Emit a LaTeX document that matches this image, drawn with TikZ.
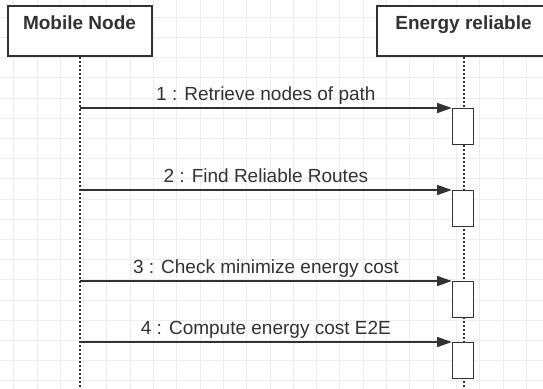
\documentclass[tikz,border=0pt]{standalone}
\usepackage{fontspec}
\setmainfont{Liberation Sans}
\usetikzlibrary{arrows.meta,positioning}
\definecolor{ink}{RGB}{50,50,50}
\definecolor{gridgrey}{RGB}{237,237,237}
\tikzset{
  lifebox/.style={draw=ink,line width=1.5pt,fill=white,anchor=north,inner xsep=0pt,inner ysep=3pt,
    text height=14.25pt,text depth=17.25pt,text=ink,font=\fontsize{14.25}{17}\selectfont\bfseries},
  actbox/.style={draw=ink,line width=1.1pt,fill=white,anchor=north,inner sep=0pt,
    minimum width=15.75pt,minimum height=27pt},
  lifeline/.style={draw=ink,line width=1.5pt,dash pattern=on 1.4pt off 1.6pt},
  msg/.style={-{Triangle[length=11pt,width=7.5pt]},line width=1.2pt,draw=ink},
  lab/.style={text=ink,font=\fontsize{14.25}{17}\selectfont,anchor=base,inner sep=0pt},
  gridline/.style={draw=gridgrey,line width=0.6pt}
}

\begin{document}
\begin{tikzpicture}[x=0.75pt,y=-0.75pt]
  \useasboundingbox (0,0) rectangle (543,389);
  \clip (0,0) rectangle (543,389);
  \fill[white] (0,0) rectangle (543,389);
  % background grid
  \foreach \gx in {0,...,23}
    \draw[gridline] (13.6+23.3*\gx,0) -- (13.6+23.3*\gx,389);
  \foreach \gy in {0,...,19}
    \draw[gridline] (0,17.2+20.2*\gy) -- (543,17.2+20.2*\gy);
  % lifelines
  \node[lifebox,minimum width=108pt] (mn) at (79.5,5) {Mobile Node};
  \node[lifebox,minimum width=130.5pt] (er) at (463.5,5) {Energy reliable};
  \coordinate (mnend) at (mn.south |- 0,389);
  \coordinate (erend) at (er.south |- 0,389);
  \draw[lifeline] (mn.south) -- (mnend);
  \draw[lifeline] (er.south) -- (erend);
  % messages
  \coordinate (m1) at (80,108);
  \coordinate (m2) at (80,190);
  \coordinate (m3) at (80,281);
  \coordinate (m4) at (80,342);
  \node[actbox] (a1) at (463,108) {};
  \node[actbox] (a2) at (463,190) {};
  \node[actbox] (a3) at (463,281) {};
  \node[actbox] (a4) at (463,342) {};
  \draw[msg] (m1) -- (a1.north west) node[lab,midway,yshift=6pt] {1 : Retrieve nodes of path};
  \draw[msg] (m2) -- (a2.north west) node[lab,midway,yshift=5.6pt] {2 : Find Reliable Routes};
  \draw[msg] (m3) -- (a3.north west) node[lab,midway,yshift=6pt] {3 : Check minimize energy cost};
  \draw[msg] (m4) -- (a4.north west) node[lab,midway,yshift=6pt] {4 : Compute energy cost E2E};
\end{tikzpicture}
\end{document}
